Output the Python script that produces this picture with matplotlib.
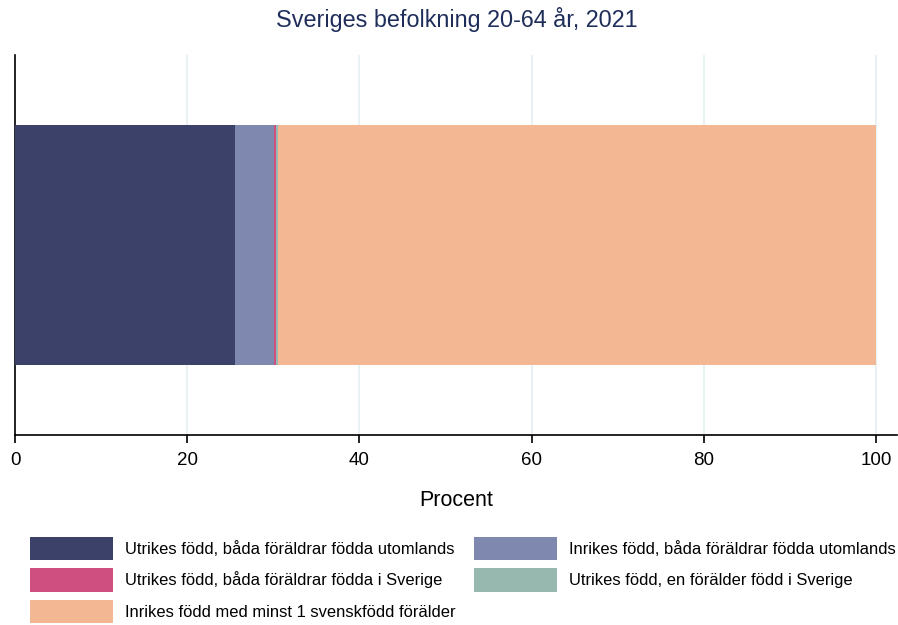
import matplotlib
matplotlib.use("Agg")
import matplotlib.pyplot as plt

plt.rcParams['font.family'] = ['Liberation Sans', 'DejaVu Sans']

categories = ["Utrikes född, båda föräldrar födda utomlands",
              "Inrikes född, båda föräldrar födda utomlands",
              "Utrikes född, båda föräldrar födda i Sverige",
              "Utrikes född, en förälder född i Sverige",
              "Inrikes född med minst 1 svenskfödd förälder"]
values = [25.5, 4.6, 0.25, 0.25, 69.4]
colors = ["#3b4169", "#7f88ae", "#cf5080", "#97b8ae", "#f4b794"]
ticks = [0, 20, 40, 60, 80, 100]

fig = plt.figure(figsize=(8.98, 6.25), dpi=100)
ax = fig.add_axes([15/898, 1 - 435/625, (897-15)/898, 380/625])

left = 0
bars = []
for cat, val, col in zip(categories, values, colors):
    b = ax.barh(0, val, left=left, height=0.63, color=col, label=cat, zorder=3)
    bars.append(b)
    left += val

ax.set_xlim(0, 102.45)
ax.set_ylim(-0.5, 0.5)
ax.set_yticks([])
ax.set_xticks(ticks)
ax.tick_params(axis='x', labelsize=13.5, length=6, width=1.2, pad=6)
ax.grid(axis='x', color='#e8f1f3', linewidth=1.5, zorder=0)
for s in ['top', 'right']:
    ax.spines[s].set_visible(False)
ax.spines['left'].set_linewidth(1.2)
ax.spines['bottom'].set_linewidth(1.2)
ax.set_xlabel('Procent', fontsize=15.5, labelpad=15)

fig.suptitle('Sveriges befolkning 20-64 år, 2021', fontsize=16.8, color='#1f2d5a',
             x=0.509, y=0.988)

# row-major legend order
order = [0, 2, 4, 1, 3]
fig.legend([bars[i] for i in order], [categories[i] for i in order],
           loc='lower center', bbox_to_anchor=(0.5156, -0.021), ncol=2, frameon=False,
           fontsize=11.85, handlelength=5.05, handleheight=1.82, handletextpad=0.72,
           labelspacing=0.49, columnspacing=1.1)

fig.savefig('out.png', dpi=100)
